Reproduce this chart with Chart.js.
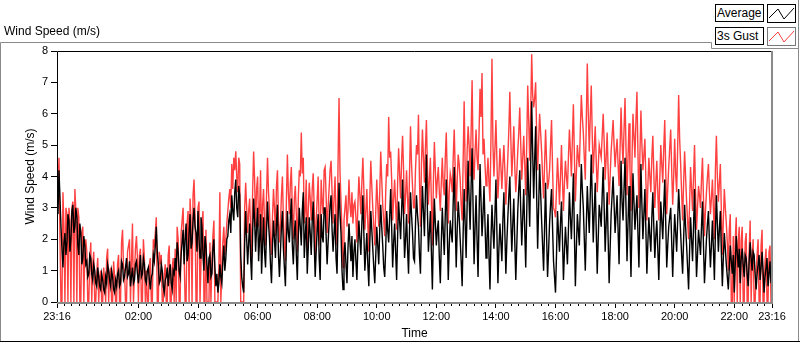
<!DOCTYPE html>
<html>
<head>
<meta charset="utf-8">
<script src="https://cdn.jsdelivr.net/npm/chart.js@4"></script>
<style>
  html, body { margin:0; padding:0; background:#fff; }
  body { width:800px; height:342px; position:relative; overflow:hidden; font-family:'Liberation Sans', Arial, sans-serif; }
  #chart { position:absolute; left:0; top:0; }
  .title { position:absolute; left:4px; top:24px; font-size:12px; color:#000; }
  .lg-text { position:absolute; left:715px; width:46px; height:16px; border:1px solid #000; font-size:12px; line-height:16px; padding-left:1px; color:#000; background:#fff; }
  .lg-icon { position:absolute; left:767px; width:27px; height:17px; border:1px solid #000; background:#fff; }
</style>
</head>
<body>
<canvas id="chart" width="800" height="342"></canvas>
<div class="title">Wind Speed (m/s)</div>
<div class="lg-text" style="top:4px">Average</div>
<div class="lg-icon" style="top:4px"><svg width="27" height="17"><polyline points="1,13 10,4 16,14 26,3" fill="none" stroke="#000" stroke-width="1"/></svg></div>
<div class="lg-text" style="top:27px">3s Gust</div>
<div class="lg-icon" style="top:27px;border-color:#777"><svg width="27" height="17"><polyline points="1,13 10,4 16,14 26,3" fill="none" stroke="rgb(255,64,64)" stroke-width="1"/></svg></div>
<script>
// samples every 2 minutes starting 23:16, one row = one hour
const stepMin = 2;
const avgSpeed = [
  3.6,2.8,4.2,3.3,2.4,1.7,1.1,1.9,2.2,1.5,1.9,2.8,2.6,1.6,2.0,2.9,3.1,2.2,2.4,3.0,2.7,1.8,1.5,2.5,2.2,1.2,1.4,2.1,1.8,1.2,
  1.3,0.8,0.9,1.5,1.4,0.9,0.7,1.2,1.0,0.6,0.5,1.1,0.8,0.5,0.4,0.9,0.7,0.4,0.3,0.8,0.6,1.2,1.0,0.7,0.5,1.0,0.8,0.4,0.3,0.7,
  0.5,0.9,1.0,0.5,0.6,1.3,1.2,0.7,0.8,1.1,1.4,0.8,0.9,1.3,0.5,0.8,1.1,0.6,0.7,1.2,1.3,0.9,0.6,1.0,1.5,0.8,0.9,1.4,1.2,0.7,
  0.6,1.0,1.1,0.7,0.4,0.8,0.9,1.5,1.3,1.8,2.4,1.6,1.2,0.6,0.7,1.2,1.0,0.5,0.3,0.7,0.8,1.1,0.5,0.9,1.2,0.6,0.4,1.0,0.9,1.4,
  1.0,1.9,1.6,1.0,0.8,1.5,1.9,2.3,1.2,2.0,2.5,1.3,1.5,2.2,2.8,1.7,1.9,2.6,3.0,2.4,2.2,1.6,2.9,2.0,1.4,2.7,2.4,1.5,1.0,2.1,
  1.8,1.2,0.6,1.4,1.5,0.8,0.9,1.7,2.0,1.1,0.5,0.9,0.3,0.6,1.2,0.8,0.6,1.3,1.8,1.0,1.4,2.0,2.1,2.6,2.8,2.2,3.4,2.9,2.6,3.5,
  3.9,3.0,2.7,3.7,3.4,1.5,0.8,0.5,0.3,1.9,2.9,2.0,1.2,1.9,2.5,1.4,0.7,2.2,3.3,2.6,1.6,2.4,3.0,1.3,2.0,2.8,0.9,1.8,2.7,1.6,
  1.1,2.3,3.2,2.5,2.0,1.2,0.6,1.8,2.6,2.0,1.4,2.5,3.1,1.5,0.8,1.6,2.4,2.9,1.7,1.1,0.5,1.9,2.9,2.2,1.9,2.7,3.3,1.8,1.2,2.2,
  2.6,1.5,0.7,2.1,3.0,2.4,1.8,2.9,3.5,1.4,2.1,2.7,0.9,1.7,2.7,2.2,1.5,2.6,3.2,1.9,0.8,1.6,2.3,2.8,1.4,0.7,2.8,2.1,1.9,3.0,
  3.0,2.1,1.2,1.9,2.5,3.1,3.4,2.3,1.6,2.2,2.8,1.4,0.9,2.6,3.8,2.8,2.2,1.0,0.4,1.5,1.9,1.2,0.6,1.7,2.5,1.9,1.3,2.1,0.8,1.6,
  2.0,1.3,0.7,1.8,2.6,2.0,1.5,2.5,3.4,2.2,1.0,1.6,2.2,1.2,0.5,1.9,2.9,2.3,1.7,1.1,0.6,1.5,2.4,1.8,1.2,2.3,3.1,2.4,1.8,1.1,
  0.8,1.7,2.9,2.3,1.9,2.7,3.6,2.4,1.1,1.9,2.5,1.6,0.7,2.1,3.2,2.6,2.0,2.9,3.9,2.7,1.4,2.0,2.8,1.7,0.9,2.3,3.5,2.8,2.2,1.4,
  1.3,2.5,3.4,2.8,2.4,1.5,0.9,2.6,3.7,2.9,2.1,3.5,4.7,2.9,1.6,2.2,2.9,1.6,0.4,2.1,3.3,2.5,1.8,2.3,2.6,1.4,0.6,1.9,3.0,2.2,
  1.5,2.8,3.9,2.3,0.7,1.8,2.6,2.2,1.9,3.2,4.3,2.6,1.1,2.3,3.2,2.7,2.0,1.3,0.5,2.2,3.6,2.5,1.4,3.1,4.5,3.3,2.3,3.7,4.9,3.0,
  1.2,2.4,3.4,2.0,0.8,2.7,4.4,3.2,2.1,2.8,3.7,2.5,1.4,2.0,2.8,1.5,0.4,2.0,3.1,2.3,1.7,2.8,3.9,2.2,0.6,1.7,2.5,1.9,1.3,2.6,
  3.5,2.2,0.9,1.9,2.7,3.4,4.0,2.6,1.6,2.5,3.3,1.9,0.7,1.8,2.9,3.6,4.2,2.9,1.8,2.7,3.6,2.3,1.1,2.8,4.6,3.5,2.4,4.3,6.4,4.8,
  3.3,4.5,5.6,3.4,1.7,3.0,4.4,3.5,2.6,1.8,1.0,2.4,3.8,2.1,0.8,1.6,2.5,3.1,3.6,2.4,1.3,0.8,0.3,1.5,2.9,2.2,1.6,2.5,3.2,2.0,
  0.7,1.6,2.4,1.8,1.2,2.3,3.5,2.7,2.0,3.0,4.1,2.2,0.5,1.7,2.8,2.3,1.8,3.1,4.4,3.6,3.0,2.0,1.0,2.4,3.7,2.9,2.2,3.4,4.7,3.3,
  1.9,2.9,3.8,2.3,0.9,2.0,3.1,2.8,2.4,3.4,4.3,3.0,1.6,2.5,3.5,2.0,0.6,1.7,2.8,3.4,4.0,3.1,2.2,2.8,3.4,2.3,1.2,2.9,4.5,3.2,
  2.6,3.6,4.6,3.0,1.3,2.5,3.7,2.2,0.8,2.5,4.1,3.2,2.3,2.9,3.4,2.2,1.1,2.8,4.4,3.1,2.0,2.8,3.6,2.3,0.9,1.9,2.7,2.1,1.6,2.7,
  3.5,2.4,1.4,2.1,2.6,1.7,0.7,2.0,3.2,2.6,2.0,3.0,3.9,2.5,1.1,1.8,2.4,2.7,3.0,1.9,0.8,1.9,2.8,2.2,1.6,2.6,3.6,2.9,2.2,1.5,
  0.9,2.0,3.1,2.4,1.8,1.1,0.4,1.6,2.7,2.0,1.3,2.4,3.6,2.1,0.8,1.5,2.3,1.9,1.5,2.4,3.2,1.8,0.6,1.3,2.0,2.5,2.9,1.9,1.1,1.8,
  2.6,1.7,0.7,2.2,3.4,2.5,1.6,2.3,2.9,1.6,0.5,1.4,2.2,1.7,1.2,0.8,0.4,1.1,1.8,1.3,0.9,1.5,0.3,1.2,2.1,1.6,1.1,1.7,0.6,1.4,
  1.7,1.2,0.8,1.5,1.4,0.9,0.5,1.3,1.9,1.4,1.0,1.6,1.5,0.9,0.4,0.9,1.2,1.5,0.7,1.1,1.6,1.0,0.3,0.8,1.1,1.4,0.5,0.9,1.3,0.6,
  1.0
];
const gustSpeed = [
  4.4,3.2,4.6,2.0,0,0,3.5,2.4,0,3.0,2.8,0,3.0,2.6,0,3.0,3.2,0,3.6,2.9,0,3.0,2.7,0,0,2.2,2.4,0,1.6,2.0,
  1.6,0,0,1.3,1.9,0,1.2,1.6,0,0,0.9,1.4,0,0.8,1.0,0,0,1.1,0.7,0,1.4,1.7,0,0.9,1.1,0,0,1.3,0.8,0,
  0,1.2,1.5,0,0,1.9,2.3,1.1,1.0,0,0,1.6,1.8,2.0,0,1.3,2.5,0,0.9,1.7,2.1,1.4,0,1.5,1.7,0,0,2.0,1.4,0,
  1.0,0,0,1.2,1.4,0,0,2.0,1.8,2.2,2.7,0,0,1.6,1.2,1.5,0,0,0.9,1.2,0,0,1.5,1.8,0,0,1.1,1.4,0,1.7,
  0,2.4,2.0,0,0,2.2,2.6,3.0,1.5,0,0,2.5,2.9,0,3.3,2.6,0,3.4,3.9,2.8,0,0,3.0,3.2,0,0,2.5,2.9,0,0,
  2.3,0,0,0,1.9,0,1.3,2.1,2.6,0,0,0,0,1.1,3.5,0,1.0,1.9,2.4,1.5,2.0,2.5,2.9,3.3,3.6,3.0,4.4,3.6,4.6,4.2,
  4.8,4.0,3.5,4.6,4.4,0,0,0,0,3.0,3.8,3.0,2.2,2.9,3.3,2.3,1.4,3.5,4.8,3.9,2.4,3.6,4.0,2.4,2.9,4.2,1.6,3.1,3.6,2.5,
  1.8,3.4,4.6,3.5,2.9,2.0,1.5,2.7,3.6,3.0,2.1,3.7,4.2,2.6,1.9,2.5,3.4,4.0,2.6,1.9,1.3,3.2,4.7,3.5,2.8,3.8,4.3,2.9,2.0,3.3,
  3.7,2.8,1.6,3.3,4.2,4.0,5.4,4.1,4.6,2.5,2.9,3.9,1.7,2.9,3.8,3.3,2.6,3.6,4.1,3.0,1.5,2.6,3.3,4.0,2.4,1.8,3.9,3.2,2.8,4.2,
  4.3,3.4,2.2,3.0,3.6,4.2,4.5,3.5,2.5,3.3,4.0,2.6,1.8,4.4,6.5,4.1,3.2,2.3,1.1,2.6,3.0,3.4,2.4,2.9,3.9,3.1,2.7,3.5,2.5,3.1,
  3.2,2.7,1.9,3.1,4.0,3.4,2.8,3.8,4.6,3.6,2.3,2.9,3.6,2.5,1.6,3.3,4.5,3.7,3.0,2.4,1.8,2.9,3.9,3.1,2.4,3.5,4.8,3.9,3.1,2.6,
  2.1,3.5,4.4,4.0,5.9,4.6,4.8,3.9,2.6,3.3,3.9,3.1,2.3,3.8,4.9,4.1,3.3,4.5,5.3,4.2,2.8,3.4,4.2,3.3,2.5,4.1,5.6,4.4,3.7,3.0,
  3.0,4.2,5.0,4.7,5.97,3.9,2.4,4.4,5.5,4.6,3.8,4.9,5.8,4.3,3.1,3.9,4.6,3.2,1.8,3.8,5.1,4.2,3.3,3.9,4.3,3.5,2.9,3.8,4.6,3.7,
  3.4,4.6,5.4,4.0,2.5,3.5,4.1,3.9,3.5,4.6,5.5,4.2,2.9,3.9,4.7,4.4,3.9,3.1,2.6,4.5,6.4,4.3,3.2,4.8,5.6,5.0,4.0,5.4,7.07,4.6,
  3.9,4.8,5.5,4.6,4.2,5.4,6.8,5.9,7.3,4.7,5.2,4.4,3.7,4.0,4.6,3.8,3.2,5.2,7.75,5.0,4.0,4.9,5.8,4.5,3.3,4.0,4.9,4.3,3.6,4.4,
  5.0,4.2,3.1,3.9,4.6,5.5,6.7,5.2,4.0,4.7,5.6,4.3,3.5,4.1,4.8,5.4,6.2,5.0,3.9,4.6,5.3,4.4,3.4,5.0,6.9,5.8,4.5,6.0,7.9,6.6,
  6.2,6.5,7.0,5.4,4.2,5.1,6.0,5.4,4.8,4.0,3.3,4.4,5.5,4.5,3.6,3.8,4.2,5.0,5.8,4.3,3.0,2.9,2.7,3.6,4.6,3.9,3.1,4.0,5.0,3.9,
  2.9,3.8,4.5,4.0,3.6,4.6,5.5,4.8,4.0,5.2,6.3,4.7,3.2,4.1,5.0,4.6,4.3,5.5,6.6,5.9,5.4,4.6,3.9,5.8,7.6,6.0,4.8,5.9,6.9,5.3,
  4.1,4.9,5.6,4.5,3.5,4.3,5.0,4.8,4.6,5.3,6.0,5.1,3.9,4.6,5.4,4.2,3.1,4.0,4.8,5.3,5.8,5.0,4.3,4.8,5.2,4.4,3.7,4.9,6.2,5.1,
  4.4,5.5,6.5,4.9,3.4,4.6,5.7,4.2,2.9,4.5,6.0,5.3,4.6,5.8,6.7,4.8,3.0,4.7,6.1,5.0,4.2,4.7,5.2,3.9,2.6,3.7,4.6,4.0,3.5,4.6,
  5.3,4.1,3.0,3.8,4.5,3.5,2.6,3.9,5.0,4.4,3.8,4.9,5.8,4.2,2.8,3.6,4.3,4.9,5.5,4.2,3.1,4.0,5.2,4.1,3.5,4.9,6.6,5.2,4.4,3.5,
  2.6,3.8,4.8,4.0,3.2,2.6,2.0,3.1,4.3,3.6,2.9,4.0,5.0,3.5,2.3,3.0,3.7,3.4,3.0,3.9,4.6,3.3,2.1,2.9,3.5,4.0,4.4,3.5,2.8,3.3,
  3.9,3.0,2.0,4.2,5.3,4.0,3.2,3.8,4.4,2.9,1.5,2.6,3.6,3.0,2.5,1.9,1.0,2.3,2.8,0,0,2.1,0,2.0,2.7,0,1.9,2.4,0,2.0,
  2.4,0,0,1.9,2.2,0,0,1.6,2.6,0,1.4,2.0,0,0,0.9,1.5,2.0,0,0,1.8,2.3,0,0,1.3,1.7,0,0,1.6,1.8,0,
  0
];
// x ticks in minutes after 23:16
const tickMinutes = [0, 164, 284, 404, 524, 644, 764, 884, 1004, 1124, 1244, 1364, 1440];
const tickLabels  = ['23:16','02:00','04:00','06:00','08:00','10:00','12:00','14:00','16:00','18:00','20:00','22:00','23:16'];

const toPoints = arr => arr.map((v, i) => ({ x: i * stepMin, y: v }));
const font = { family: "'Liberation Sans', Arial, sans-serif", size: 11 };

const framePlugin = {
  id: 'frame',
  afterDraw(chart) {
    const ctx = chart.ctx, a = chart.chartArea, xs = chart.scales.x;
    ctx.save();
    ctx.lineWidth = 1;
    // minor ticks every 15 minutes
    ctx.strokeStyle = '#000';
    ctx.beginPath();
    for (let m = 14; m < 1440; m += 15) {
      if (tickMinutes.includes(m)) continue;
      const px = Math.round(xs.getPixelForValue(m)) + 0.5;
      ctx.moveTo(px, a.bottom + 1); ctx.lineTo(px, a.bottom + 4);
    }
    ctx.stroke();
    // plot frame: dark top/left, grey bottom/right
    ctx.beginPath();
    ctx.moveTo(a.left + 0.5, a.bottom); ctx.lineTo(a.left + 0.5, a.top + 0.5); ctx.lineTo(a.right, a.top + 0.5);
    ctx.stroke();
    ctx.strokeStyle = '#8a8a8a';
    ctx.lineWidth = 2;
    ctx.beginPath();
    ctx.moveTo(a.right, a.top); ctx.lineTo(a.right, a.bottom + 1); ctx.lineTo(a.left, a.bottom + 1);
    ctx.stroke();
    // outer panel
    ctx.lineWidth = 1;
    ctx.strokeStyle = '#8a8a8a';
    ctx.beginPath();
    ctx.moveTo(0.5, 342); ctx.lineTo(0.5, 42.5); ctx.lineTo(711.5, 42.5); ctx.lineTo(711.5, 48.5); ctx.lineTo(798.5, 48.5);
    ctx.moveTo(798.5, 0); ctx.lineTo(798.5, 342);
    ctx.stroke();
    ctx.strokeStyle = '#000';
    ctx.beginPath();
    ctx.moveTo(0, 341.5); ctx.lineTo(800, 341.5);
    ctx.stroke();
    ctx.restore();
  }
};

new Chart(document.getElementById('chart'), {
  type: 'line',
  data: {
    datasets: [
      { label: 'Average', data: toPoints(avgSpeed), borderColor: '#000', borderWidth: 1.4, pointRadius: 0, tension: 0 },
      { label: '3s Gust', data: toPoints(gustSpeed), borderColor: 'rgb(255,64,64)', borderWidth: 1.4, pointRadius: 0, tension: 0 }
    ]
  },
  options: {
    responsive: false,
    animation: false,
    devicePixelRatio: 1,
    layout: { padding: { left: 0, right: 28, top: 51, bottom: 0 } },
    plugins: { legend: { display: false }, tooltip: { enabled: false } },
    scales: {
      x: {
        type: 'linear', min: 0, max: 1440,
        afterBuildTicks: s => { s.ticks = tickMinutes.map(v => ({ value: v })); },
        afterFit: s => { s.height = 40; },
        ticks: { autoSkip: false, maxRotation: 0, padding: 2, color: '#000', font,
                 callback: (v) => tickLabels[tickMinutes.indexOf(v)] },
        grid: { drawOnChartArea: false, tickLength: 6, tickColor: '#000' },
        border: { display: false },
        title: { display: true, text: 'Time', color: '#000', font: { family: font.family, size: 12 }, padding: { top: 0, bottom: 1 } }
      },
      y: {
        min: 0, max: 8,
        afterFit: s => { s.width = 57; },
        ticks: { stepSize: 1, padding: 3, color: '#000', font },
        grid: { drawOnChartArea: false, tickLength: 6, tickColor: '#000' },
        border: { display: false },
        title: { display: true, text: 'Wind Speed (m/s)', color: '#000', font: { family: font.family, size: 12 }, padding: { top: 23, bottom: 0 } }
      }
    }
  },
  plugins: [framePlugin]
});
</script>
</body>
</html>
